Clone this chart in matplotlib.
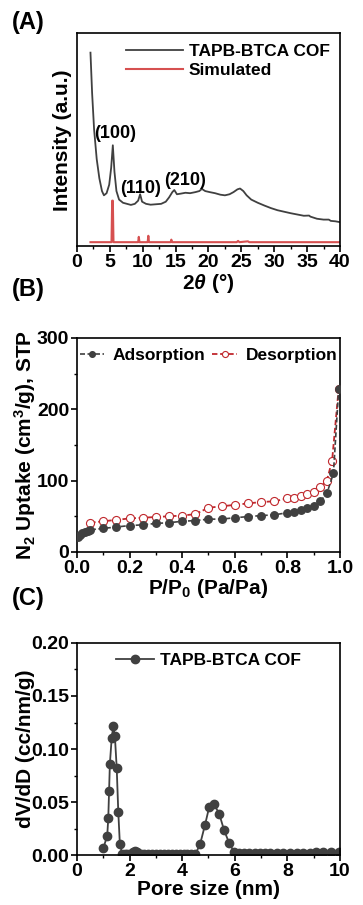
import matplotlib
matplotlib.use("Agg")
import matplotlib.pyplot as plt
from matplotlib.ticker import MultipleLocator, NullLocator

plt.rcParams["font.family"] = ["Liberation Sans", "DejaVu Sans"]
plt.rcParams["font.weight"] = "bold"
plt.rcParams["axes.labelweight"] = "bold"
plt.rcParams["mathtext.fontset"] = "custom"
plt.rcParams["mathtext.rm"] = "Liberation Sans:bold"
plt.rcParams["mathtext.bf"] = "Liberation Sans:bold"
plt.rcParams["mathtext.it"] = "Liberation Sans:bold:italic"

DARK = "#404040"
RED = "#c0282d"
SIM_RED = "#d65050"

# (A) PXRD, intensity in arbitrary units (axis 0..100)
xrd_2theta = [2.05, 2.3, 2.6, 3.0, 3.4, 3.8, 4.1, 4.5, 4.9, 5.2, 5.45, 5.7, 6.0,
              6.4, 7.0, 7.6, 8.2, 8.8, 9.3, 9.6, 9.9, 10.5, 11.2, 12.0, 12.8,
              13.5, 14.0, 14.5, 14.8, 15.2, 15.8, 16.5, 17.2, 18.0, 18.6, 19.0,
              19.5, 20.2, 21.0, 21.8, 22.5, 23.2, 23.8, 24.4, 24.8, 25.3, 25.8,
              26.5, 27.5, 28.5, 29.5, 30.5, 31.5, 32.5, 33.5, 34.5, 35.3, 35.5,
              36.5, 37.5, 38.3, 38.6, 39.3, 40.0]
xrd_int = [91, 72, 55, 41, 32, 26, 24, 25, 29, 37, 47.5, 35, 26,
           22, 20.5, 20, 19.5, 20, 21.5, 24.5, 21, 20, 19.6, 19.8, 20,
           21, 23, 25.5, 26.5, 24.5, 24.8, 25.2, 25, 25.5, 26, 27,
           26, 25.5, 25, 24.3, 24, 24.5, 25.5, 26.8, 27.2, 26, 24,
           22, 20.5, 19.2, 18, 17, 16.3, 15.6, 15, 14.4, 14.5, 14,
           13, 12.6, 12.6, 12, 11.8, 11.4]
sim_2theta = [2.05, 5.25, 5.35, 5.45, 5.55, 9.3, 9.4, 9.5, 10.75, 10.85, 10.95,
              14.25, 14.35, 14.45, 24.3, 24.5, 24.7, 26.0, 26.2, 40.0]
sim_int = [2, 2, 21.5, 21.5, 2, 2, 4.5, 2, 2, 5, 2,
           2, 3.2, 2, 2, 2.6, 2, 2.4, 2, 2]
peak_labels = ["(100)", "(110)", "(210)"]
peak_label_x = [5.8, 9.6, 16.4]
peak_label_y = [53, 27, 31]

# (B) N2 isotherm
ads_p = [0.005, 0.01, 0.02, 0.03, 0.04, 0.05, 0.1, 0.15, 0.2, 0.25, 0.3, 0.35,
         0.4, 0.45, 0.5, 0.55, 0.6, 0.65, 0.7, 0.75, 0.8, 0.825, 0.85, 0.875,
         0.9, 0.925, 0.95, 0.975, 0.995]
ads_v = [21, 24, 26, 28, 29, 31, 33, 35, 37, 38, 40, 41,
         43, 44, 46, 46, 48, 49.5, 51, 52, 55, 56, 59, 62,
         65, 71, 82, 110, 228]
des_p = [0.05, 0.1, 0.15, 0.2, 0.25, 0.3, 0.35, 0.4, 0.45, 0.5, 0.55, 0.6,
         0.65, 0.7, 0.75, 0.8, 0.825, 0.85, 0.875, 0.9, 0.925, 0.95, 0.97, 0.995]
des_v = [41, 43, 45, 47, 48, 49, 50, 51, 53, 62, 64, 66,
         68, 70, 71, 75, 76, 78, 81, 84, 91, 100, 128, 229]

# (C) pore size distribution
pore_d = [1.0, 1.15, 1.19, 1.22, 1.25, 1.32, 1.38, 1.44, 1.51, 1.57, 1.63,
          1.72, 1.82, 1.92, 2.02, 2.12, 2.2, 2.3, 2.42, 2.55, 2.7, 2.85, 3.0,
          3.15, 3.3, 3.45, 3.6, 3.75, 3.9, 4.05, 4.2, 4.35, 4.5, 4.68, 4.87,
          5.03, 5.21, 5.41, 5.59, 5.79, 5.97, 6.15, 6.35, 6.55, 6.75, 6.95,
          7.15, 7.35, 7.6, 7.85, 8.1, 8.35, 8.6, 8.85, 9.1, 9.35, 9.65, 9.95]
pore_dvdd = [0.0068, 0.0186, 0.0355, 0.0606, 0.086, 0.1107, 0.1217, 0.1123,
             0.0825, 0.041, 0.0108, 0.0014, 0.0014, 0.0014, 0.0015, 0.003,
             0.0042, 0.003, 0.0014, 0.0012, 0.0012, 0.0012, 0.0012, 0.0012,
             0.0012, 0.0012, 0.0012, 0.0012, 0.0012, 0.0012, 0.0012, 0.0012,
             0.0012, 0.0105, 0.029, 0.0459, 0.0484, 0.039, 0.024, 0.0114,
             0.0036, 0.0022, 0.0022, 0.0023, 0.0024, 0.0025, 0.0025, 0.0026,
             0.0026, 0.0027, 0.0027, 0.0027, 0.0028, 0.0028, 0.0029, 0.0029,
             0.003, 0.003]

TICK_FS = 14
LABEL_FS = 15
LEG_FS = 12.5

fig = plt.figure(figsize=(3.63, 9.05), dpi=100)
axA = fig.add_axes([0.2121, 0.7277, 0.7245, 0.2353])
axB = fig.add_axes([0.2121, 0.3901, 0.7245, 0.2365])
axC = fig.add_axes([0.2121, 0.0547, 0.7245, 0.2351])


def style(ax):
    for s in ax.spines.values():
        s.set_linewidth(1.2)
    ax.tick_params(which="major", direction="out", length=4, width=1.2,
                   labelsize=TICK_FS, pad=1.5)
    ax.tick_params(which="minor", direction="out", length=2.2, width=1.0)
    for lab in ax.get_xticklabels() + ax.get_yticklabels():
        lab.set_fontweight("bold")


# ---- (A)
axA.plot(xrd_2theta, xrd_int, color=DARK, lw=1.3, label="TAPB-BTCA COF")
axA.plot(sim_2theta, sim_int, color=SIM_RED, lw=1.5, label="Simulated")
for t, x, y in zip(peak_labels, peak_label_x, peak_label_y):
    axA.text(x, y, t, ha="center", va="center", fontsize=13, fontweight="bold")
axA.set_xlim(0, 40)
axA.set_ylim(0, 100)
axA.xaxis.set_major_locator(MultipleLocator(5))
axA.xaxis.set_minor_locator(MultipleLocator(2.5))
axA.yaxis.set_major_locator(NullLocator())
axA.yaxis.set_minor_locator(NullLocator())
axA.set_xlabel(r"2$\it{\theta}$ (°)", fontsize=LABEL_FS, labelpad=1)
axA.set_ylabel("Intensity (a.u.)", fontsize=LABEL_FS)
axA.yaxis.set_label_coords(-0.02, 0.5)
axA.legend(loc="upper right", frameon=False, handlelength=3.3,
           handletextpad=0.3, labelspacing=0.2, borderaxespad=0.2,
           prop={"weight": "bold", "size": LEG_FS})
style(axA)

# ---- (B)
axB.plot(ads_p, ads_v, color=DARK, lw=1.2, ls=(0, (3, 1.5)), marker="o",
         markersize=5.4, markerfacecolor=DARK, markeredgecolor=DARK,
         label="Adsorption", zorder=3)
axB.plot(des_p, des_v, color=RED, lw=1.3, ls=(0, (3, 1.5)), marker="o",
         markersize=5.8, markerfacecolor="white", markeredgecolor=RED,
         markeredgewidth=0.8, label="Desorption", zorder=2)
axB.set_xlim(0, 1.0)
axB.set_ylim(0, 300)
axB.xaxis.set_major_locator(MultipleLocator(0.2))
axB.xaxis.set_minor_locator(MultipleLocator(0.1))
axB.yaxis.set_major_locator(MultipleLocator(100))
axB.yaxis.set_minor_locator(MultipleLocator(50))
axB.xaxis.set_major_formatter(plt.FuncFormatter(lambda v, p: f"{v:.1f}"))
axB.set_xlabel(r"P/P$_0$ (Pa/Pa)", fontsize=LABEL_FS, labelpad=0)
axB.set_ylabel(r"N$_2$ Uptake (cm$^3$/g), STP", fontsize=LABEL_FS)
axB.yaxis.set_label_coords(-0.15, 0.5)
axB.legend(loc="upper center", ncol=2, frameon=False, handlelength=1.4,
           handletextpad=0.5, columnspacing=0.4, borderaxespad=0.2,
           markerscale=0.75, prop={"weight": "bold", "size": LEG_FS})
style(axB)

# ---- (C)
axC.plot(pore_d, pore_dvdd, color=DARK, lw=1.3, marker="o", markersize=6,
         markerfacecolor=DARK, markeredgecolor=DARK, label="TAPB-BTCA COF")
axC.set_xlim(0, 10)
axC.set_ylim(0, 0.20)
axC.xaxis.set_major_locator(MultipleLocator(2))
axC.xaxis.set_minor_locator(MultipleLocator(1))
axC.yaxis.set_major_locator(MultipleLocator(0.05))
axC.yaxis.set_minor_locator(MultipleLocator(0.025))
axC.yaxis.set_major_formatter(plt.FuncFormatter(lambda v, p: f"{v:.2f}"))
axC.set_xlabel("Pore size (nm)", fontsize=LABEL_FS, labelpad=0)
axC.set_ylabel("dV/dD (cc/nm/g)", fontsize=LABEL_FS)
axC.yaxis.set_label_coords(-0.16, 0.5)
axC.legend(loc="upper center", frameon=False, handlelength=2.2,
           handletextpad=0.3, borderaxespad=0.2,
           prop={"weight": "bold", "size": LEG_FS})
style(axC)

# panel letters
for lab, y in zip(["(A)", "(B)", "(C)"], [23, 289, 599]):
    fig.text(12 / 363, 1 - y / 905, lab, fontsize=17, fontweight="bold",
             ha="left", va="center")

fig.savefig("out.png", dpi=100)
